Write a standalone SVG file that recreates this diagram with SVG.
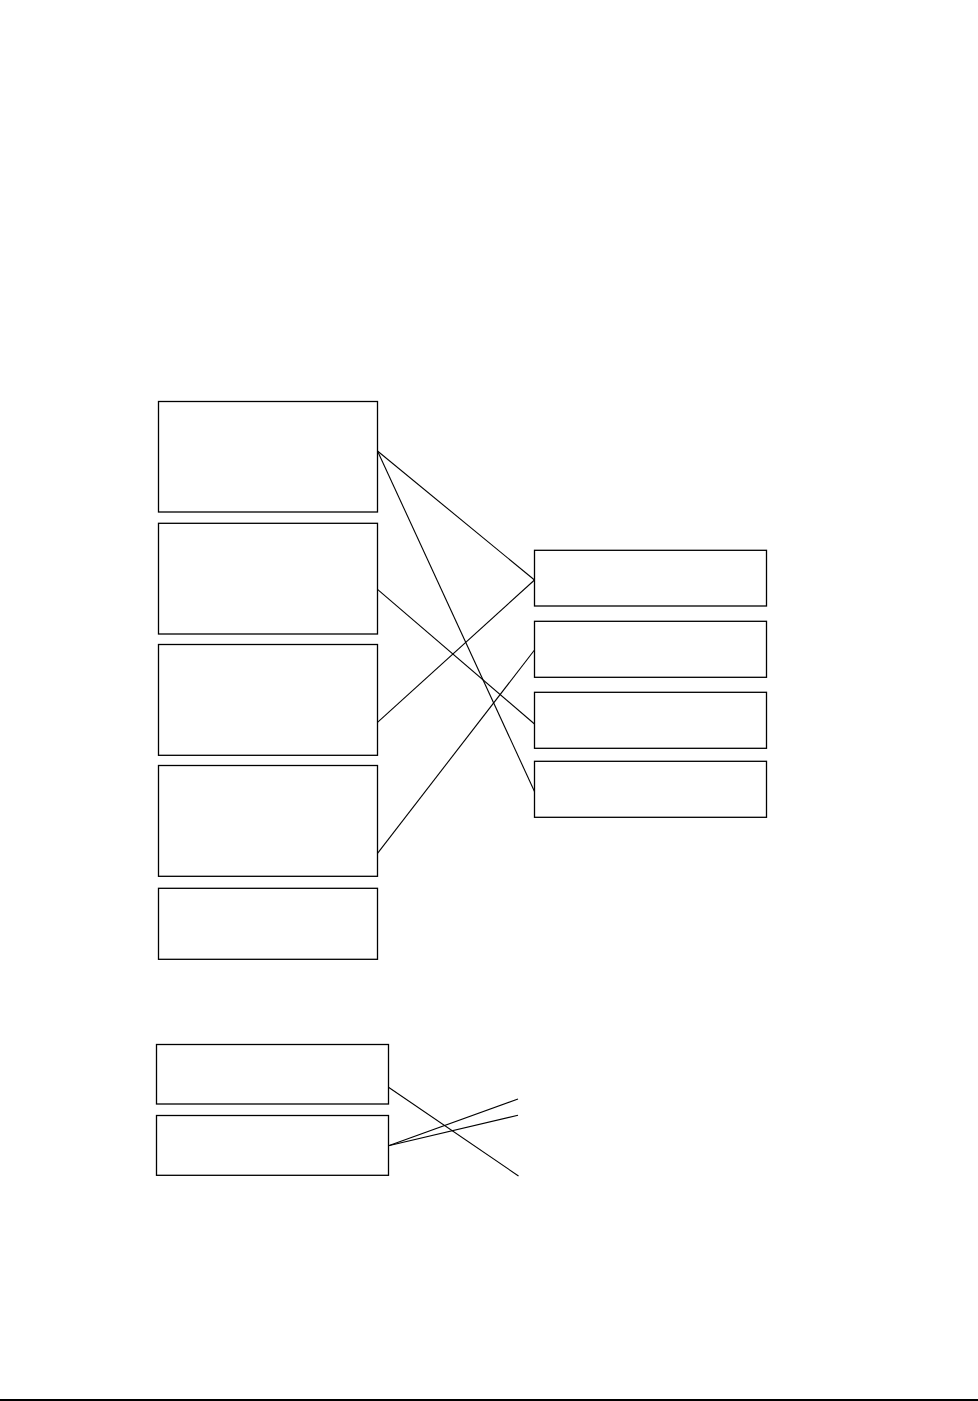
<svg xmlns="http://www.w3.org/2000/svg" width="978" height="1401" viewBox="0 0 978 1401">
<style>
.box{fill:#fff;stroke:#000;stroke-width:1.3}
.con{fill:none;stroke:#000;stroke-width:1.1}
</style>
<rect x="0" y="0" width="978" height="1401" fill="#fff"/>
<g id="left-1"><rect class="box" x="158.5" y="401.5" width="219" height="110.5"/></g>
<g id="left-2"><rect class="box" x="158.5" y="523.3" width="219" height="110.7"/></g>
<g id="left-3"><rect class="box" x="158.5" y="644.5" width="219" height="110.8"/></g>
<g id="left-4"><rect class="box" x="158.5" y="765.5" width="219" height="110.8"/></g>
<g id="left-5"><rect class="box" x="158.5" y="888.3" width="219" height="71"/></g>
<g id="right-1"><rect class="box" x="534.5" y="550.3" width="232" height="55.7"/></g>
<g id="right-2"><rect class="box" x="534.5" y="621.3" width="232" height="56"/></g>
<g id="right-3"><rect class="box" x="534.5" y="692.3" width="232" height="56"/></g>
<g id="right-4"><rect class="box" x="534.5" y="761.3" width="232" height="56"/></g>
<g id="bottom-1"><rect class="box" x="156.5" y="1044.5" width="232" height="59.5"/></g>
<g id="bottom-2"><rect class="box" x="156.5" y="1115.5" width="232" height="59.8"/></g>
<g id="connectors">
<line class="con" x1="377.5" y1="451" x2="534.5" y2="580"/>
<line class="con" x1="377.5" y1="451" x2="534.5" y2="791.5"/>
<line class="con" x1="377.5" y1="589.3" x2="534.5" y2="724"/>
<line class="con" x1="377.5" y1="722.3" x2="534.5" y2="580"/>
<line class="con" x1="377.5" y1="853.3" x2="534.5" y2="650"/>
<line class="con" x1="388.5" y1="1087.3" x2="518.5" y2="1176"/>
<line class="con" x1="388.5" y1="1145.7" x2="518" y2="1099"/>
<line class="con" x1="388.5" y1="1145.7" x2="518" y2="1115.3"/>
</g>
<line x1="0" y1="1400" x2="978" y2="1400" stroke="#000" stroke-width="2"/>
</svg>
